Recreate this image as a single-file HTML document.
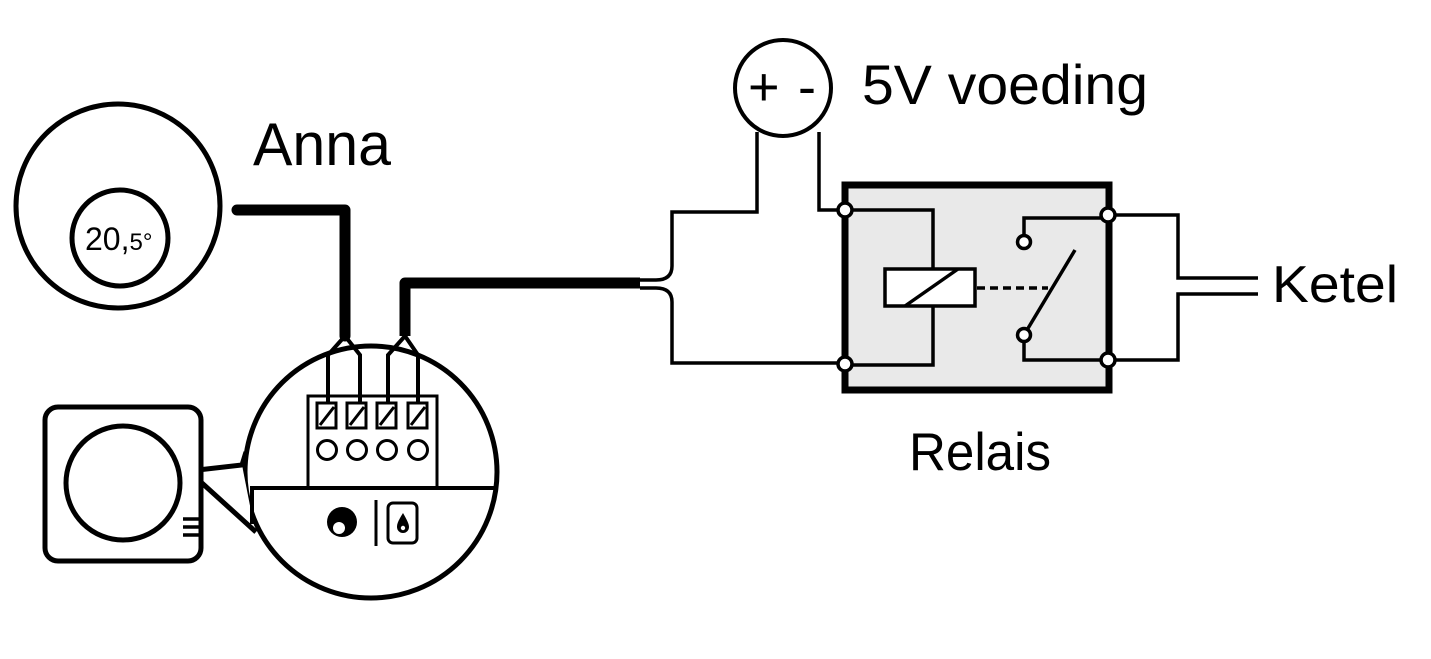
<!DOCTYPE html>
<html><head><meta charset="utf-8"><style>html,body{margin:0;padding:0;background:#fff}svg{display:block}text{font-family:"Liberation Sans",sans-serif;fill:#000}</style></head>
<body>
<svg width="1431" height="659" viewBox="0 0 1431 659" xmlns="http://www.w3.org/2000/svg">
<g fill="none" stroke="#000" stroke-linejoin="miter">
<circle cx="118" cy="206" r="102" stroke-width="5"/>
<circle cx="120" cy="238" r="48" stroke-width="5"/>
<path d="M237 210 H345 V336" stroke-width="11" stroke-linecap="round" stroke-linejoin="round"/>
<path d="M640 283 H405 V336" stroke-width="11" stroke-linejoin="round"/>
<circle cx="371" cy="472" r="126" stroke-width="5" fill="#fff"/>
<polygon points="190,471 242,465 254,526" fill="#fff" stroke="none"/>
<path d="M189 471 L242 465 L246 452 M192 474 L256 532" stroke-width="5"/>
<path d="M345 336 L328 355 V402 M345 336 L360 355 V402 M405 336 L388 355 V402 M405 336 L418 355 V402" stroke-width="4"/>
<path d="M308 488 V396 H437 V488" stroke-width="3"/>
<path d="M252 524 V488 H497" stroke-width="4"/>
<g stroke-width="3">
<rect x="317" y="403" width="19" height="25"/><rect x="347" y="403" width="19" height="25"/>
<rect x="377" y="403" width="19" height="25"/><rect x="408" y="403" width="19" height="25"/>
<path d="M320 425 L334 407 M350 425 L364 407 M380 425 L394 407 M411 425 L425 407"/>
<circle cx="327" cy="450" r="9.5"/><circle cx="357" cy="450" r="9.5"/><circle cx="387" cy="450" r="9.5"/><circle cx="418" cy="450" r="9.5"/>
</g>
<circle cx="342" cy="522" r="15" fill="#000" stroke="none"/>
<circle cx="339" cy="528" r="6" fill="#fff" stroke="none"/>
<path d="M376 500 V546" stroke-width="3"/>
<rect x="388" y="503" width="29" height="40" rx="5" stroke-width="3"/>
<path d="M403 513 C398 521 397 524 397 527 A6 6 0 0 0 409 527 C409 524 407 520 403 513 Z" fill="#000" stroke="none"/>
<circle cx="403" cy="528" r="2.2" fill="#fff" stroke="none"/>
<rect x="45" y="407" width="156" height="154" rx="13" stroke-width="5" fill="#fff"/>
<circle cx="123" cy="483" r="57" stroke-width="5"/>
<path d="M183 519 H199 M183 527 H199 M183 535 H199" stroke-width="3.5"/>
<path d="M640 280 H656 Q672 280 672 266 V212 H757 V132" stroke-width="3.5"/>
<path d="M640 288 H656 Q672 288 672 302 V363 H845" stroke-width="3.5"/>
<path d="M819 132 V210 H845" stroke-width="3.5"/>
<circle cx="783" cy="88" r="48" stroke-width="4" fill="#fff"/>
<rect x="845" y="185" width="264" height="205" fill="#e9e9e9" stroke-width="7"/>
<path d="M845 210 H933 V268 M933 305 V365 H845" stroke-width="3.5"/>
<rect x="885" y="269" width="90" height="37" fill="#fff" stroke-width="3.5"/>
<path d="M905 306 L958 269" stroke-width="3.5"/>
<path d="M977 288 H1048" stroke-width="3.5" stroke-dasharray="8 5"/>
<path d="M1024 335 L1075 250" stroke-width="3.5"/>
<path d="M1024 235 V218 H1108 M1024 342 V360 H1108" stroke-width="3.5"/>
<circle cx="1024" cy="242" r="6.5" fill="#fff" stroke-width="3.5"/>
<circle cx="1024" cy="335" r="6.5" fill="#fff" stroke-width="3.5"/>
<circle cx="845" cy="210" r="7" fill="#fff" stroke-width="3.5"/>
<circle cx="845" cy="364" r="7" fill="#fff" stroke-width="3.5"/>
<circle cx="1108" cy="215" r="7" fill="#fff" stroke-width="3.5"/>
<circle cx="1108" cy="360" r="7" fill="#fff" stroke-width="3.5"/>
<path d="M1115 215 H1178 V278 H1258 M1115 360 H1178 V294 H1258" stroke-width="3.5"/>
</g>
<text x="85" y="250" font-size="32">20,<tspan font-size="24">5°</tspan></text>
<text x="253" y="165" font-size="60" textLength="138" lengthAdjust="spacingAndGlyphs">Anna</text>
<text x="748" y="105" font-size="54">+</text>
<text x="798" y="105" font-size="54">-</text>
<text x="862" y="104" font-size="56" textLength="286" lengthAdjust="spacingAndGlyphs">5V voeding</text>
<text x="1272" y="302" font-size="52" textLength="126" lengthAdjust="spacingAndGlyphs">Ketel</text>
<text x="909" y="470" font-size="53" textLength="142" lengthAdjust="spacingAndGlyphs">Relais</text>
</svg>
</body></html>
